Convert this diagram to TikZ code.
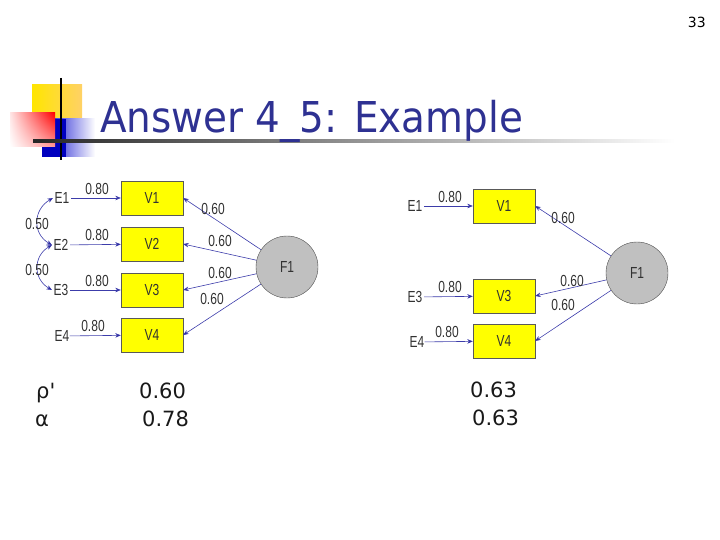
\documentclass[tikz,border=0pt]{standalone}
\usepackage{fontspec}
\setmainfont{DejaVu Sans}
\newfontfamily\labfont{Liberation Sans}
\usetikzlibrary{arrows.meta,shadings}
\definecolor{titleblue}{RGB}{46,49,146}
\definecolor{lineblue}{RGB}{60,60,170}
\definecolor{tipblue}{RGB}{20,20,160}
\definecolor{boxyellow}{RGB}{255,255,0}
\definecolor{circgray}{RGB}{192,192,192}
\definecolor{labgray}{RGB}{50,50,50}
\newcommand{\dlab}[1]{\scalebox{0.75}[1]{\labfont\fontsize{16}{18}\selectfont #1}}
\tikzset{
  obsbox/.style={draw=black!65, fill=boxyellow, minimum width=62pt, minimum height=34pt, inner sep=0pt, text=labgray},
  latent/.style={circle, draw=black!70, fill=circgray, minimum size=62pt, inner sep=0pt, text=labgray},
  errnode/.style={inner sep=1.5pt, text=labgray},
  coef/.style={inner sep=0pt, text=labgray},
  path/.style={draw=lineblue, line width=0.6pt, -{Stealth[length=5.5pt,width=4.5pt,fill=tipblue]}},
  corr/.style={draw=lineblue, line width=0.6pt, {Stealth[length=5.5pt,width=4.5pt,fill=tipblue]}-{Stealth[length=5.5pt,width=4.5pt,fill=tipblue]}},
  bottomtxt/.style={inner sep=0pt, anchor=base west, font=\fontsize{21}{24}\selectfont, text=black!90}
}
\begin{document}
\begin{tikzpicture}[x=1pt,y=1pt]
\useasboundingbox (0,0) rectangle (720,-540);
% page number
\node[inner sep=0pt, anchor=base east, font=\fontsize{14}{16}\selectfont] (pnum) at (706,-28) {33};
% logo
\shade[left color=yellow!80!orange, right color=yellow!40!orange!60] (32,-85) rectangle (82,-130);
\shade[left color=blue!80!black, right color=white] (42,-119) rectangle (95,-157);
\fill[blue!75!black] (42,-119) rectangle (66,-157);
\shade[upper left=red!10, upper right=red, lower left=white, lower right=red!40] (10,-113) rectangle (55,-147);
\draw[black, line width=2pt] (61,-78) -- (61,-160);
\shade[left color=black!85, right color=white] (33,-140) rectangle (675,-142.5);
% title
\node[inner sep=0pt, anchor=base west, text=titleblue, font=\fontsize{42.5}{48}\selectfont] (title) at (100,-133) {\scalebox{0.915}[1]{Answer 4\_5: Example}};

% ---------- left model ----------
\node[obsbox] (LV1) at (152,-198) {\dlab{V1}};
\node[obsbox] (LV2) at (152,-244) {\dlab{V2}};
\node[obsbox] (LV3) at (152,-290) {\dlab{V3}};
\node[obsbox] (LV4) at (152,-335) {\dlab{V4}};
\node[latent] (LF1) at (287,-267) {\dlab{F1}};
\node[errnode] (LE1) at (62,-198) {\dlab{E1}};
\node[errnode] (LE2) at (61,-245) {\dlab{E2}};
\node[errnode] (LE3) at (61,-290) {\dlab{E3}};
\node[errnode, inner sep=0pt] (LE4) at (62,-336) {\dlab{E4}};
\draw[path] (LE1) -- (LV1);
\draw[path] (LE2) -- (LV2);
\draw[path] (LE3) -- (LV3);
\draw[path] (LE4) -- (LV4);
\node[coef] (l1) at (97,-189) {\dlab{0.80}};
\node[coef] (l2) at (97,-235) {\dlab{0.80}};
\node[coef] (l3) at (97,-281) {\dlab{0.80}};
\node[coef] (l4) at (93,-326) {\dlab{0.80}};
\draw[corr] (LE2.west) to[out=150, in=210, looseness=1.25] (LE1.west);
\draw[corr] (LE3.west) to[out=150, in=210, looseness=1.25] (LE2.west);
\node[coef] (c1) at (37,-224) {\dlab{0.50}};
\node[coef] (c2) at (37,-270) {\dlab{0.50}};
\draw[path] (LF1) -- (LV1.east);
\draw[path] (LF1) -- (LV2.east);
\draw[path] (LF1) -- (LV3.east);
\draw[path] (LF1) -- (LV4.east);
\node[coef] (f1) at (213,-209) {\dlab{0.60}};
\node[coef] (f2) at (220,-241) {\dlab{0.60}};
\node[coef] (f3) at (220,-273) {\dlab{0.60}};
\node[coef] (f4) at (212,-299) {\dlab{0.60}};

% ---------- right model ----------
\node[obsbox] (RV1) at (504,-206) {\dlab{V1}};
\node[obsbox] (RV3) at (504,-296) {\dlab{V3}};
\node[obsbox] (RV4) at (504,-341) {\dlab{V4}};
\node[latent] (RF1) at (637,-273) {\dlab{F1}};
\node[errnode] (RE1) at (415,-206) {\dlab{E1}};
\node[errnode] (RE3) at (415,-297) {\dlab{E3}};
\node[errnode, inner sep=0pt] (RE4) at (417,-342) {\dlab{E4}};
\draw[path] (RE1) -- (RV1);
\draw[path] (RE3) -- (RV3);
\draw[path] (RE4) -- (RV4);
\node[coef] (r1) at (450,-197) {\dlab{0.80}};
\node[coef] (r3) at (450,-287) {\dlab{0.80}};
\node[coef] (r4) at (447,-332) {\dlab{0.80}};
\draw[path] (RF1) -- (RV1.east);
\draw[path] (RF1) -- (RV3.east);
\draw[path] (RF1) -- (RV4.east);
\node[coef] (g1) at (563,-218) {\dlab{0.60}};
\node[coef] (g3) at (572,-281) {\dlab{0.60}};
\node[coef] (g4) at (563,-305) {\dlab{0.60}};

% ---------- bottom values ----------
\node[bottomtxt] (rho) at (36,-398) {ρ\textquotesingle};
\node[bottomtxt] (alpha) at (35,-426) {α};
\node[bottomtxt] (lrho) at (139,-398) {0.60};
\node[bottomtxt] (lalpha) at (142,-426) {0.78};
\node[bottomtxt] (rrho) at (470,-397) {0.63};
\node[bottomtxt] (ralpha) at (472,-425) {0.63};
\end{tikzpicture}
\end{document}
